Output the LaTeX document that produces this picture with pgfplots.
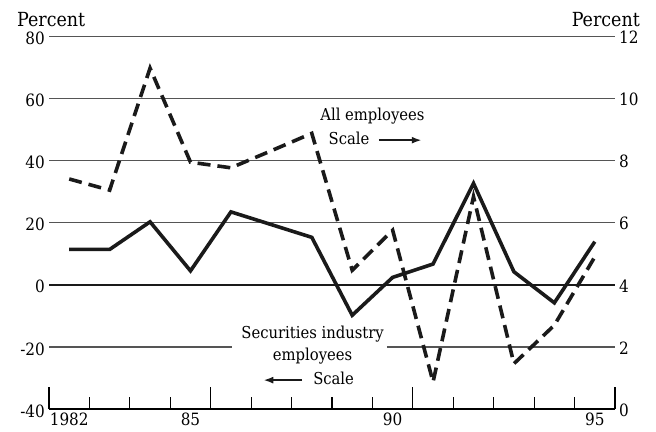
\documentclass[border=0pt]{standalone}
\usepackage{fontspec}
\setmainfont{DejaVu Serif Condensed}
\usepackage{pgfplots}
\pgfplotsset{compat=1.18}
\usetikzlibrary{arrows.meta}

% securities industry employees, left scale (percent)
\pgfplotstableread{
year val
1982 11.4
1983 11.4
1984 20.3
1985 4.5
1986 23.5
1987 19.4
1988 15.3
1989 -9.8
1990 2.4
1991 6.7
1992 32.7
1993 4.2
1994 -5.8
1995 13.9
}\securities

% all employees, right scale (percent)
\pgfplotstableread{
year val
1982 7.41
1983 7.05
1984 10.98
1985 7.95
1986 7.77
1987 8.32
1988 8.88
1989 4.47
1990 5.76
1991 0.87
1992 6.84
1993 1.46
1994 2.70
1995 4.90
}\allemp

\definecolor{gridgray}{HTML}{555555}
\definecolor{ink}{HTML}{1A1A1A}

\begin{document}
\begin{tikzpicture}
\fontsize{16.5}{18}\selectfont
\begin{axis}[
  name=ax,
  scale only axis, width=566bp, height=372.5bp,
  xmin=1981.5, xmax=1995.5, ymin=-40, ymax=80,
  axis x line*=bottom, axis y line*=left,
  y axis line style={draw=none},
  x axis line style={line width=1.3bp, -},
  ytick={-40,-20,...,80}, ytick style={draw=none},
  yticklabel style={font=\fontsize{17}{19}\selectfont, xshift=-3bp, yshift=-2bp, inner sep=1bp},
  xtick={1982,1985,1990,1995}, xticklabels={1982,85,90,95},
  xticklabel style={font=\fontsize{17}{19}\selectfont, yshift=2bp},
  major tick length=0pt,
  tick align=inside,
  minor xtick={1982.5,1983.5,1984.5,1986.5,1987.5,1988.5,1989.5,1991.5,1992.5,1993.5,1994.5},
  minor tick length=12bp,
  minor tick style={line width=1.2bp, black},
  extra x ticks={1981.5,1985.5,1990.5,1995.5},
  extra x tick labels={},
  extra x tick style={major tick length=22bp, tick style={line width=1.2bp, black}},
  /pgf/number format/assume math mode=true,
  clip=false,
]
% horizontal rules
\draw[gridgray, line width=1.3bp] (axis cs:1981.5,20) -- (axis cs:1995.5,20);
\draw[gridgray, line width=1.3bp] (axis cs:1981.5,40) -- (axis cs:1995.5,40);
\draw[gridgray, line width=1.3bp] (axis cs:1981.5,60) -- (axis cs:1995.5,60);
\draw[gridgray, line width=1.3bp] (axis cs:1981.5,80) -- (axis cs:1995.5,80);
\draw[gridgray, line width=1.3bp] (axis cs:1981.5,-20) -- (axis cs:1986.03,-20);
\draw[gridgray, line width=1.3bp] (axis cs:1989.86,-20) -- (axis cs:1995.5,-20);
\draw[ink, line width=2.6bp] (axis cs:1981.5,0) -- (axis cs:1995.5,0);

\addplot[ink, line width=3.6bp, miter limit=4] table[x=year, y=val] \securities;

% annotations
\node at (axis cs:1989.5,54.2) {All employees};
\node at (axis cs:1988.92,47.3) {Scale};
\draw[ink, line width=2bp, -{Latex[length=10bp,width=7bp]}] (axis cs:1989.66,46.6) -- (axis cs:1990.72,46.6);
\node at (axis cs:1988.02,-16.0) {Securities industry};
\node at (axis cs:1988.02,-23.0) {employees};
\node at (axis cs:1988.54,-30.1) {Scale};
\draw[ink, line width=2bp, -{Latex[length=10bp,width=7bp]}] (axis cs:1987.76,-30.7) -- (axis cs:1986.80,-30.7);

\node[anchor=base west, inner sep=0pt, font=\fontsize{19.5}{21}\selectfont] at ([shift={(-32bp,10bp)}]axis cs:1981.5,80) {Percent};
\end{axis}

\begin{axis}[
  scale only axis, width=566bp, height=372.5bp,
  xmin=1981.5, xmax=1995.5, ymin=0, ymax=12,
  axis x line=none, axis y line*=right,
  y axis line style={draw=none},
  ytick={0,2,...,12}, ytick style={draw=none},
  major tick length=0pt,
  yticklabel style={font=\fontsize{17}{19}\selectfont, xshift=3bp, yshift=-1bp, inner sep=1bp},
  /pgf/number format/assume math mode=true,
  clip=false,
]
\addplot[ink, line width=3.6bp, dash pattern=on 13bp off 7bp] table[x=year, y=val] \allemp;
\node[anchor=base east, inner sep=0pt, font=\fontsize{19.5}{21}\selectfont] at ([shift={(25bp,10bp)}]axis cs:1995.5,12) {Percent};
\end{axis}

\pgfresetboundingbox
\path[use as bounding box] ([shift={(-49bp,-23bp)}]ax.south west) rectangle ([shift={(41bp,36.5bp)}]ax.north east);
\end{tikzpicture}
\end{document}
